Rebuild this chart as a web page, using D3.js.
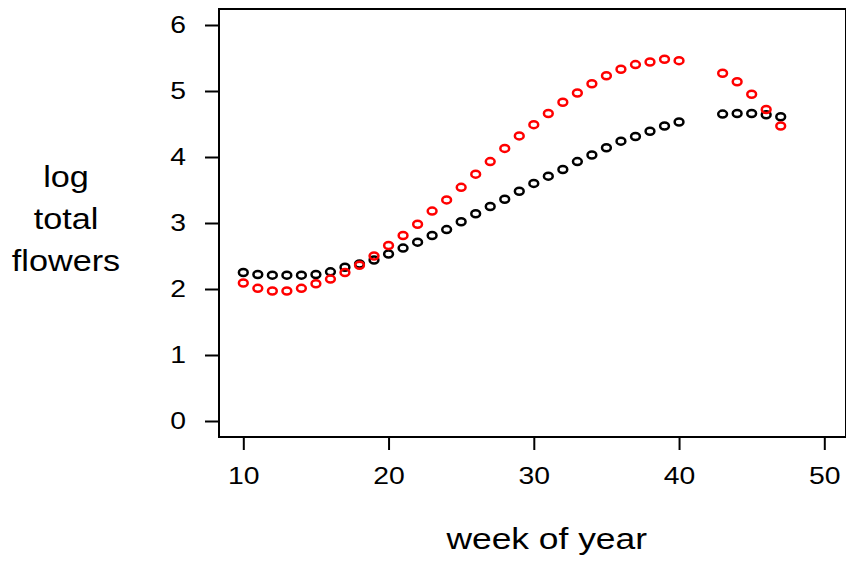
<!DOCTYPE html>
<html>
<head>
<meta charset="utf-8">
<script src="https://cdn.jsdelivr.net/npm/d3@7"></script>
<style>
  body { margin: 0; background: white; }
  svg { display: block; font-family: "Liberation Sans", Arial, sans-serif; }
</style>
</head>
<body>
<div id="chart"></div>
<script>
// weeks with observations (41, 42 missing)
const weeks = [10, 11, 12, 13, 14, 15, 16, 17, 18, 19, 20, 21, 22, 23, 24, 25, 26,
               27, 28, 29, 30, 31, 32, 33, 34, 35, 36, 37, 38, 39, 40, 43, 44, 45, 46, 47];
const blackVals = [2.25, 2.22, 2.21, 2.21, 2.21, 2.22, 2.26, 2.33, 2.38, 2.44, 2.53, 2.62,
                   2.71, 2.81, 2.90, 3.02, 3.14, 3.25, 3.36, 3.48, 3.60, 3.71, 3.81, 3.93,
                   4.03, 4.14, 4.24, 4.31, 4.39, 4.47, 4.53, 4.65, 4.66, 4.66, 4.64, 4.61];
const redVals = [2.09, 2.01, 1.97, 1.97, 2.01, 2.08, 2.15, 2.25, 2.36, 2.50, 2.66, 2.81,
                 2.98, 3.18, 3.35, 3.54, 3.74, 3.93, 4.13, 4.32, 4.49, 4.66, 4.83, 4.97,
                 5.11, 5.23, 5.33, 5.40, 5.44, 5.48, 5.46, 5.27, 5.14, 4.95, 4.72, 4.47];
const xTicks = [10, 20, 30, 40, 50];
const yTicks = [0, 1, 2, 3, 4, 5, 6];

const width = 846;
const height = 561;
const box = {left : 219, right : 846, top : 9, bottom : 437};
const stretch = 1.18; // picture is a bit wider than tall

const svg = d3.select("#chart").append("svg")
                .attr("width", width)
                .attr("height", height);

const x = d3.scaleLinear().domain([ 10, 50 ]).range([ 243.3, 824.3 ]);
const y = d3.scaleLinear().domain([ 0, 6 ]).range([ 421, 25 ]);

// plot frame
svg.append("rect")
    .attr("x", box.left)
    .attr("y", box.top)
    .attr("width", box.right - box.left)
    .attr("height", box.bottom - box.top)
    .attr("fill", "none")
    .attr("stroke", "black")
    .attr("stroke-width", 2);

// X-axis
const xAxis = svg.append("g")
                  .attr("transform", `translate(0,${box.bottom})`)
                  .call(d3.axisBottom(x).tickValues(xTicks).tickFormat(d3.format("d"))
                            .tickSize(13).tickPadding(17));
// Y-axis
const yAxis = svg.append("g")
                  .attr("transform", `translate(${box.left},0)`)
                  .call(d3.axisLeft(y).tickValues(yTicks).tickFormat(d3.format("d"))
                            .tickSize(14).tickPadding(19));

[xAxis, yAxis].forEach(g => {
  g.select(".domain").remove();
  g.selectAll(".tick line").attr("stroke", "black").attr("stroke-width", 2);
  g.selectAll(".tick text")
      .attr("fill", "black")
      .style("font-size", "24px")
      .attr("font-family", null);
});
yAxis.selectAll(".tick text")
    .attr("x", -33 / stretch)
    .attr("transform", `scale(${stretch},1)`);
xAxis.selectAll(".tick text")
    .attr("transform", `scale(${stretch},1)`);

// points: black first, red on top
const series = [ {vals : blackVals, color : "black"}, {vals : redVals, color : "red"} ];
series.forEach(s => {
  svg.append("g")
      .selectAll("ellipse")
      .data(weeks.map((w, i) => ({week : w, value : s.vals[i]})))
      .join("ellipse")
      .attr("cx", d => x(d.week))
      .attr("cy", d => y(d.value))
      .attr("rx", 4.4)
      .attr("ry", 3.5)
      .attr("fill", "none")
      .attr("stroke", s.color)
      .attr("stroke-width", 2.5);
});

// axis titles
svg.append("text")
    .attr("transform", `translate(546.7,549) scale(${stretch},1)`)
    .attr("text-anchor", "middle")
    .style("font-size", "30px")
    .text("week of year");

const yTitle = [ "log", "total", "flowers" ];
svg.append("g")
    .selectAll("text")
    .data(yTitle)
    .join("text")
    .attr("transform", (d, i) => `translate(66,${187 + i * 42}) scale(${stretch},1)`)
    .attr("text-anchor", "middle")
    .style("font-size", "29px")
    .text(d => d);
</script>
</body>
</html>
